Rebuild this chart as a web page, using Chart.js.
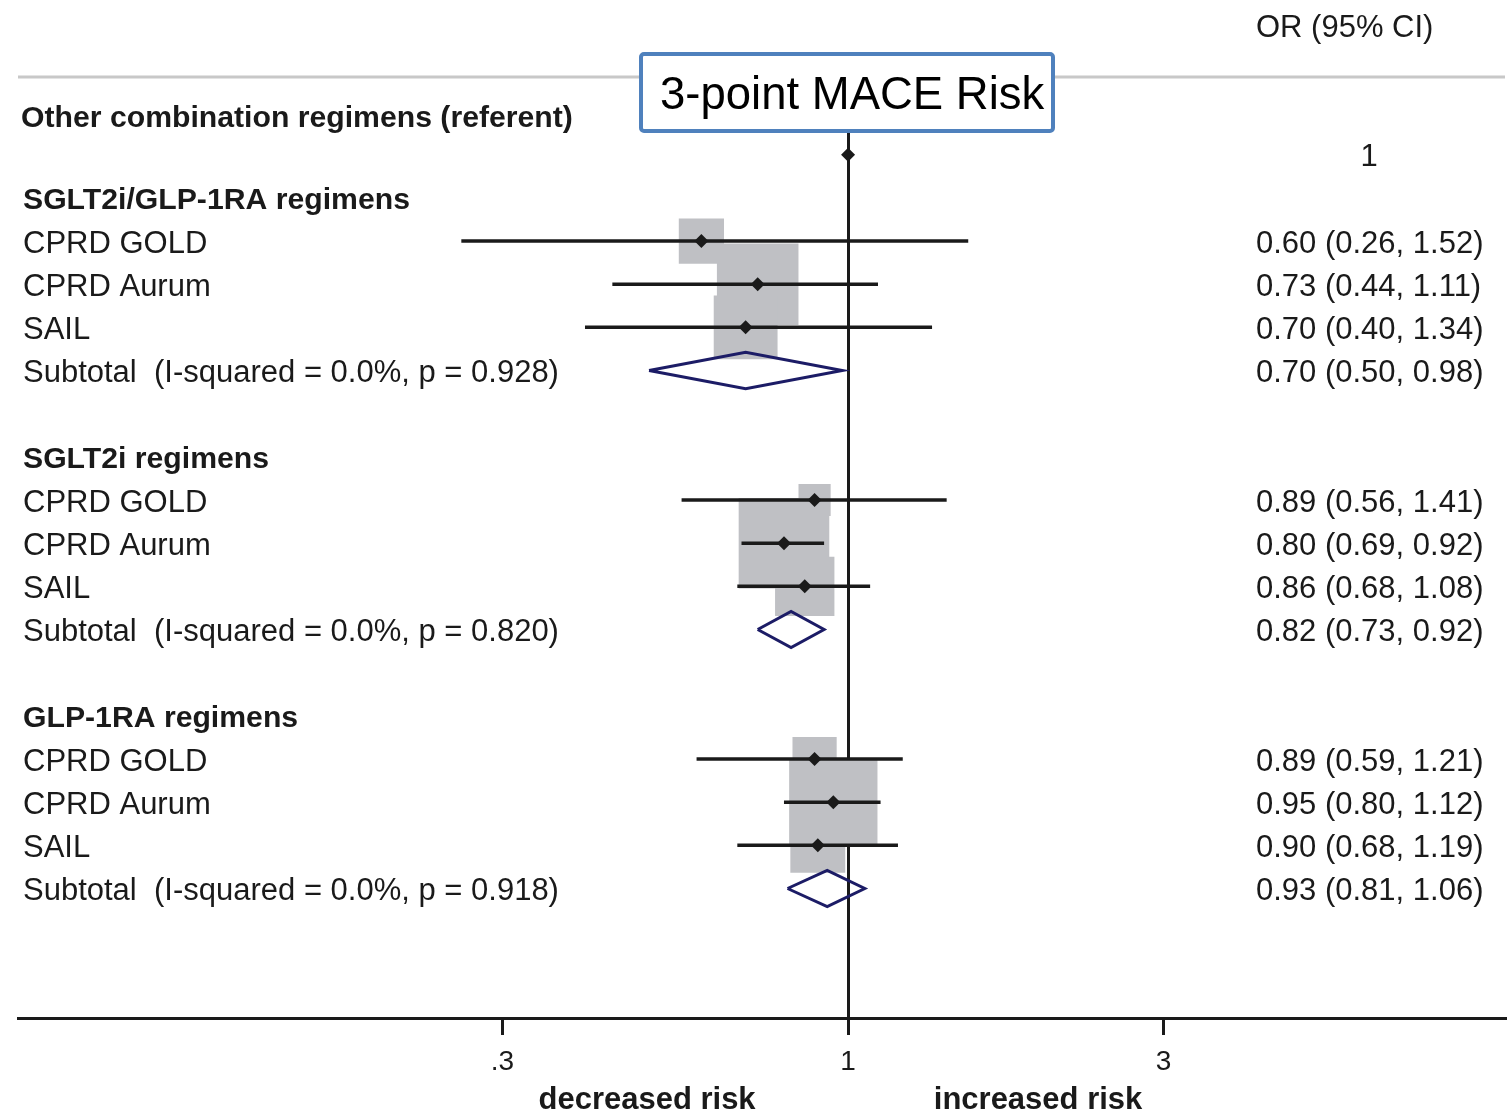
<!DOCTYPE html>
<html>
<head>
<meta charset="utf-8">
<title>3-point MACE Risk</title>
<script src="https://cdn.jsdelivr.net/npm/chart.js@4"></script>
<style>
    body { margin: 0; background: #ffffff; }
    canvas { display: block; }
</style>
</head>
<body>
<canvas id="forestChart" width="1509" height="1111"></canvas>
<script>
// Forest plot: odds ratios for 3-point MACE, by regimen and data source

const GROUPS = ["SGLT2i/GLP-1RA regimens", "SGLT2i regimens", "GLP-1RA regimens"];
const SOURCES = ["CPRD GOLD", "CPRD Aurum", "SAIL"];
const REFERENT_LABEL = "Other combination regimens (referent)";
const REFERENT_OR = 1;

// one row per group, one column per source
const OR_EST = [[0.60, 0.73, 0.70], [0.89, 0.80, 0.86], [0.89, 0.95, 0.90]];
const OR_LOW = [[0.26, 0.44, 0.40], [0.56, 0.69, 0.68], [0.59, 0.80, 0.68]];
const OR_HIGH = [[1.52, 1.11, 1.34], [1.41, 0.92, 1.08], [1.21, 1.12, 1.19]];
const WEIGHTS = [[16.0, 52.1, 31.9], [8.1, 64.3, 27.6], [15.3, 61.1, 23.6]];

const SUB_EST = [0.70, 0.82, 0.93];
const SUB_LOW = [0.50, 0.73, 0.81];
const SUB_HIGH = [0.98, 0.92, 1.06];
const I_SQUARED = ["0.0%", "0.0%", "0.0%"];
const HET_P = ["0.928", "0.820", "0.918"];

const X_TICKS = [0.3, 1, 3];
const X_TICK_LABELS = [".3", "1", "3"];

const FONT = "'Liberation Sans', Arial, Helvetica, sans-serif";
const INK = "#1a1a1a";
const BOX_GREY = "#bfc0c4";
const DIAMOND_NAVY = "#1c1c66";
const TITLE_BLUE = "#4f81bd";

// rows of the plot, counted from the top
const ROW_REF_LABEL = 0.1;
const ROW_REF = 1;
const ROWS_PER_GROUP = 6;
const groupRow = (g) => 2 + g * ROWS_PER_GROUP;
const studyRow = (g, s) => groupRow(g) + 1 + s;
const subtotalRow = (g) => groupRow(g) + 1 + SOURCES.length;

const DIAMOND_HALF = 0.42;   // half-height of the pooled diamond, in rows
const BOX_PX = 11.3;         // box side per sqrt(weight %)

function fmtOR(est, lo, hi) {
    return `${est.toFixed(2)} (${lo.toFixed(2)}, ${hi.toFixed(2)})`;
}

// flatten the study table
const studies = [];
GROUPS.forEach((g, gi) => {
    SOURCES.forEach((src, si) => {
        studies.push({
            row: studyRow(gi, si),
            label: src,
            est: OR_EST[gi][si],
            lo: OR_LOW[gi][si],
            hi: OR_HIGH[gi][si],
            w: WEIGHTS[gi][si],
        });
    });
});

const boxData = studies.map((s) => ({ x: s.est, y: s.row }));
const boxRadius = studies.map((s) => (BOX_PX * Math.sqrt(s.w)) / Math.SQRT2);
const markerData = [{ x: REFERENT_OR, y: ROW_REF }].concat(studies.map((s) => ({ x: s.est, y: s.row })));

const ciDatasets = studies.map((s) => ({
    type: "line",
    data: [{ x: s.lo, y: s.row }, { x: s.hi, y: s.row }],
    borderColor: INK,
    borderWidth: 3.5,
    pointRadius: 0,
    fill: false,
    order: 3,
}));

const diamondDatasets = GROUPS.map((g, gi) => {
    const r = subtotalRow(gi);
    return {
        type: "line",
        data: [
            { x: SUB_LOW[gi], y: r },
            { x: SUB_EST[gi], y: r - DIAMOND_HALF },
            { x: SUB_HIGH[gi], y: r },
            { x: SUB_EST[gi], y: r + DIAMOND_HALF },
            { x: SUB_LOW[gi], y: r },
        ],
        borderColor: DIAMOND_NAVY,
        borderWidth: 3,
        borderJoinStyle: "miter",
        pointRadius: 0,
        fill: false,
        tension: 0,
        order: 2,
    };
});

// text columns
const leftTexts = [{ text: REFERENT_LABEL, row: ROW_REF_LABEL, bold: true }];
const rightTexts = [{ text: String(REFERENT_OR), row: ROW_REF, center: true }];
GROUPS.forEach((g, gi) => {
    leftTexts.push({ text: g, row: groupRow(gi), bold: true });
    SOURCES.forEach((src, si) => {
        leftTexts.push({ text: src, row: studyRow(gi, si), bold: false });
        rightTexts.push({ text: fmtOR(OR_EST[gi][si], OR_LOW[gi][si], OR_HIGH[gi][si]), row: studyRow(gi, si) });
    });
    leftTexts.push({
        text: `Subtotal  (I-squared = ${I_SQUARED[gi]}, p = ${HET_P[gi]})`,
        row: subtotalRow(gi),
        bold: false,
    });
    rightTexts.push({ text: fmtOR(SUB_EST[gi], SUB_LOW[gi], SUB_HIGH[gi]), row: subtotalRow(gi) });
});

const forestText = {
    id: "forestText",
    beforeDatasetsDraw(chart) {
        const { ctx, chartArea } = chart;
        ctx.save();
        ctx.strokeStyle = "#c8c8c8";
        ctx.lineWidth = 3;
        ctx.beginPath();
        ctx.moveTo(chartArea.left, chartArea.top);
        ctx.lineTo(chartArea.right, chartArea.top);
        ctx.stroke();
        ctx.restore();
    },
    afterDraw(chart) {
        const { ctx, scales } = chart;
        const y = scales.y;
        const x = scales.x;
        ctx.save();
        ctx.fillStyle = INK;
        ctx.textBaseline = "middle";

        leftTexts.forEach((t) => {
            ctx.font = t.bold ? `bold 30.2px ${FONT}` : `31px ${FONT}`;
            ctx.textAlign = "left";
            ctx.fillText(t.text, t.row === ROW_REF_LABEL ? 21 : 23, y.getPixelForValue(t.row) + 3);
        });

        ctx.font = `31px ${FONT}`;
        rightTexts.forEach((t) => {
            ctx.textAlign = t.center ? "center" : "left";
            ctx.fillText(t.text, t.center ? 1369 : 1256, y.getPixelForValue(t.row) + 3);
        });

        ctx.textAlign = "left";
        ctx.fillText("OR (95% CI)", 1256, 28);

        // direction labels under the axis
        const x1 = x.getPixelForValue(1);
        ctx.font = `bold 31px ${FONT}`;
        ctx.textAlign = "center";
        ctx.fillText("decreased risk", x1 - 201, 1100);
        ctx.fillText("increased risk", x1 + 190, 1100);

        // title box
        ctx.fillStyle = "#ffffff";
        ctx.strokeStyle = TITLE_BLUE;
        ctx.lineWidth = 4;
        ctx.beginPath();
        ctx.roundRect(641, 54, 412, 77, 3);
        ctx.fill();
        ctx.stroke();
        ctx.fillStyle = "#000000";
        ctx.font = `45.5px ${FONT}`;
        ctx.textAlign = "left";
        ctx.fillText("3-point MACE Risk", 660, 96);
        ctx.restore();
    },
};

new Chart(document.getElementById("forestChart"), {
    type: "scatter",
    data: {
        datasets: [
            {
                type: "scatter",
                data: markerData,
                pointStyle: "rectRot",
                pointRadius: 7,
                backgroundColor: INK,
                borderWidth: 0,
                order: 1,
            },
            ...diamondDatasets,
            ...ciDatasets,
            {
                type: "scatter",
                data: boxData,
                pointStyle: "rect",
                pointRadius: (ctx) => boxRadius[ctx.dataIndex],
                backgroundColor: BOX_GREY,
                borderWidth: 0,
                order: 4,
            },
        ],
    },
    options: {
        responsive: false,
        animation: false,
        events: [],
        layout: { autoPadding: false, padding: { left: 18, right: 4, top: 77, bottom: 0 } },
        plugins: {
            legend: { display: false },
            tooltip: { enabled: false },
            title: { display: false },
        },
        scales: {
            x: {
                type: "logarithmic",
                min: 0.0555,
                max: 9.86,
                bounds: "data",
                afterBuildTicks: (scale) => {
                    scale.ticks = X_TICKS.map((v) => ({ value: v }));
                },
                afterFit: (scale) => {
                    scale.height = 93;
                },
                ticks: {
                    autoSkip: false,
                    maxRotation: 0,
                    padding: 10,
                    color: INK,
                    font: { family: FONT, size: 28 },
                    callback: (value, index) => X_TICK_LABELS[index],
                },
                grid: {
                    drawOnChartArea: true,
                    color: (ctx) => (ctx.tick && ctx.tick.value === 1 ? INK : "rgba(0,0,0,0)"),
                    lineWidth: 3,
                    tickLength: 17,
                    tickColor: INK,
                    tickWidth: 3,
                },
                border: { display: true, color: INK, width: 3 },
            },
            y: {
                type: "linear",
                display: false,
                reverse: true,
                min: -0.8,
                max: 21,
            },
        },
    },
    plugins: [forestText],
});
</script>
</body>
</html>
